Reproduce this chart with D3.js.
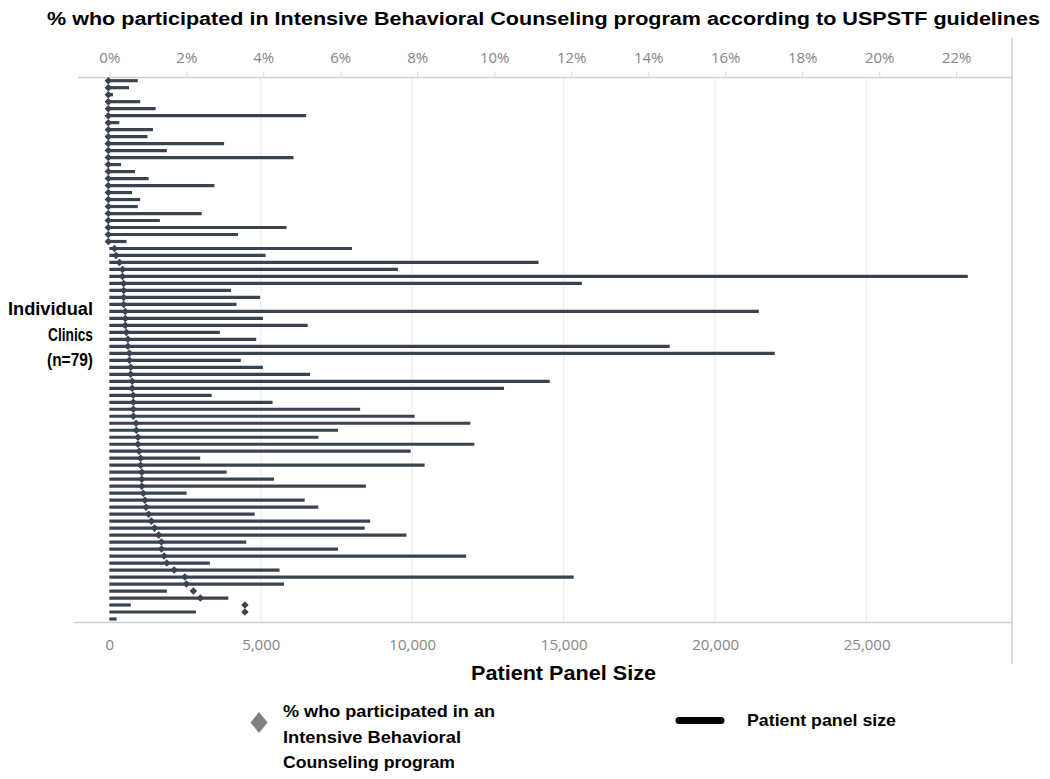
<!DOCTYPE html>
<html><head><meta charset="utf-8">
<script src="https://cdn.jsdelivr.net/npm/d3@7"></script>
<style>
body{margin:0;background:#fff}
svg{display:block}
</style>
</head><body>
<svg id="chart" width="1050" height="779"></svg>
<script>
// ---------------- data ----------------
const clinics = d3.range(1, 79).map(i => "Clinic " + i);
const panelSize = [
  940, 650, 120, 1020, 1530, 6500, 330, 1440, 1260, 3790,
  1900, 6080, 390, 850, 1300, 3470, 750, 1020, 940, 3050,
  1670, 5850, 4250, 570, 8010, 5160, 14170, 9530, 28340, 15600,
  4020, 4980, 4200, 21440, 5070, 6550, 3650, 4850, 18500, 21970,
  4340, 5070, 6630, 14540, 13030, 3380, 5390, 8280, 10080, 11920,
  7550, 6900, 12050, 9950, 3000, 10410, 3870, 5440, 8470, 2550,
  6450, 6900, 4800, 8610, 8430, 9810, 4520, 7550, 11780, 3320,
  5620, 15330, 5770, 1900, 3930, 710, 2860, 240
];
const pctParticipated = [
  0, 0, 0, 0, 0, 0, 0, 0, 0, 0,
  0, 0, 0, 0, 0, 0, 0, 0, 0, 0,
  0, 0, 0, 0, 0.16, 0.20, 0.29, 0.37, 0.37, 0.40,
  0.40, 0.40, 0.40, 0.44, 0.44, 0.44, 0.47, 0.51, 0.51, 0.55,
  0.55, 0.58, 0.58, 0.62, 0.62, 0.65, 0.65, 0.65, 0.65, 0.72,
  0.73, 0.77, 0.77, 0.80, 0.84, 0.84, 0.87, 0.87, 0.87, 0.91,
  0.95, 0.98, 1.05, 1.12, 1.20, 1.31, 1.38, 1.38, 1.45, 1.52,
  1.71, 1.99, 2.03, 2.21, 2.39, 3.55, 3.55, null
];
const panelTicks = [0, 5000, 10000, 15000, 20000, 25000];
const pctTicks = [0, 2, 4, 6, 8, 10, 12, 14, 16, 18, 20, 22];

const titleText = "% who participated in Intensive Behavioral Counseling program according to USPSTF guidelines";
const xTitleText = "Patient Panel Size";
const yLabelLines = ["Individual", "Clinics", "(n=79)"];
const legendPctLines = ["% who participated in an", "Intensive Behavioral", "Counseling program"];
const legendBarText = "Patient panel size";

// ---------------- layout ----------------
(function () {
const svg = d3.select("#chart");
const pLeft = 109.3, pRight = 1012, pTop = 77.5, pBottom = 622.5;
const boldFont = "'Liberation Sans', Arial, sans-serif";
const axisFont = "'Open Sans', 'Noto Sans', sans-serif";
const barColor = "#3a4350";

const x = d3.scaleLinear().domain([0, 29800]).range([pLeft, pRight]);
const xPct = d3.scaleLinear().domain([0, 23.45]).range([pLeft, pRight]);
const y = d3.scalePoint().domain(d3.range(panelSize.length)).range([80.7, 619]);

// gridlines
svg.append("g").selectAll("line").data(panelTicks.filter(d => d > 0)).join("line")
  .attr("x1", d => x(d)).attr("x2", d => x(d))
  .attr("y1", pTop).attr("y2", pBottom)
  .attr("stroke", "#ebebeb").attr("stroke-width", 1);

// axis baselines and right border
svg.append("line").attr("x1", 78).attr("x2", pRight).attr("y1", pTop).attr("y2", pTop)
  .attr("stroke", "#cfcfcf").attr("stroke-width", 1.5);
svg.append("line").attr("x1", 74).attr("x2", pRight).attr("y1", pBottom).attr("y2", pBottom)
  .attr("stroke", "#cfcfcf").attr("stroke-width", 1.5);
svg.append("line").attr("x1", pRight).attr("x2", pRight).attr("y1", 38).attr("y2", 664)
  .attr("stroke", "#cfcfcf").attr("stroke-width", 1.5);

// top axis (percent)
const topAxis = svg.append("g").attr("transform", `translate(0,${pTop})`)
  .call(d3.axisTop(xPct).tickValues(pctTicks).tickFormat(d => d + "%").tickSize(6).tickPadding(9));
topAxis.select(".domain").remove();
topAxis.selectAll(".tick line").attr("stroke", "#dadada");
topAxis.selectAll(".tick text").attr("fill", "#858585")
  .style("font-family", axisFont).style("font-size", "15px");

// bottom axis (panel size)
const botAxis = svg.append("g").attr("transform", `translate(0,${pBottom})`)
  .call(d3.axisBottom(x).tickValues(panelTicks).tickFormat(d3.format(",")).tickSize(0).tickPadding(17));
botAxis.select(".domain").remove();
botAxis.selectAll(".tick text").attr("fill", "#858585")
  .style("font-family", axisFont).style("font-size", "15px");

// bars
svg.append("g").selectAll("line").data(panelSize).join("line")
  .attr("x1", x(0)).attr("x2", d => x(d))
  .attr("y1", (d, i) => y(i)).attr("y2", (d, i) => y(i))
  .attr("stroke", barColor).attr("stroke-width", 3.2);

// diamonds
const diamond = d3.symbol().type(d3.symbolDiamond2 || d3.symbolDiamond).size(36);
svg.append("g").selectAll("path")
  .data(pctParticipated.map((p, i) => ({p, i})).filter(d => d.p !== null))
  .join("path")
  .attr("d", diamond)
  .attr("transform", d => `translate(${xPct(d.p) - 1},${y(d.i)})`)
  .attr("fill", barColor);

// title
svg.append("text").attr("x", 47).attr("y", 25)
  .attr("textLength", 993).attr("lengthAdjust", "spacingAndGlyphs")
  .style("font-family", boldFont).style("font-weight", "bold").style("font-size", "18px")
  .attr("fill", "#000").text(titleText);

// x axis title
svg.append("text").attr("x", 471).attr("y", 680)
  .attr("textLength", 185).attr("lengthAdjust", "spacingAndGlyphs")
  .style("font-family", boldFont).style("font-weight", "bold").style("font-size", "20px")
  .attr("fill", "#000").text(xTitleText);

// left label
const yLab = svg.append("g");
const yLabWidths = [85, 45, 46];
yLabelLines.forEach((t, i) => {
  yLab.append("text").attr("x", 93 - yLabWidths[i]).attr("y", 315 + i * 25.5)
    .attr("textLength", yLabWidths[i]).attr("lengthAdjust", "spacingAndGlyphs")
    .style("font-family", boldFont).style("font-weight", "bold").style("font-size", "18px")
    .attr("fill", "#000").text(t);
});

// legend
svg.append("path").attr("d", "M0,-10.5 L8.5,0 L0,10.5 L-8.5,0 Z")
  .attr("transform", "translate(259,722.5)").attr("fill", "#808080");
const legWidths = [212, 178, 172];
legendPctLines.forEach((t, i) => {
  svg.append("text").attr("x", 283).attr("y", 717 + i * 25.5)
    .attr("textLength", legWidths[i]).attr("lengthAdjust", "spacingAndGlyphs")
    .style("font-family", boldFont).style("font-weight", "bold").style("font-size", "17px")
    .attr("fill", "#000").text(t);
});
svg.append("line").attr("x1", 679).attr("x2", 721).attr("y1", 720.5).attr("y2", 720.5)
  .attr("stroke", "#000").attr("stroke-width", 7).attr("stroke-linecap", "round");
svg.append("text").attr("x", 747).attr("y", 726)
  .attr("textLength", 149).attr("lengthAdjust", "spacingAndGlyphs")
  .style("font-family", boldFont).style("font-weight", "bold").style("font-size", "17px")
  .attr("fill", "#000").text(legendBarText);
})();
</script>
</body></html>
